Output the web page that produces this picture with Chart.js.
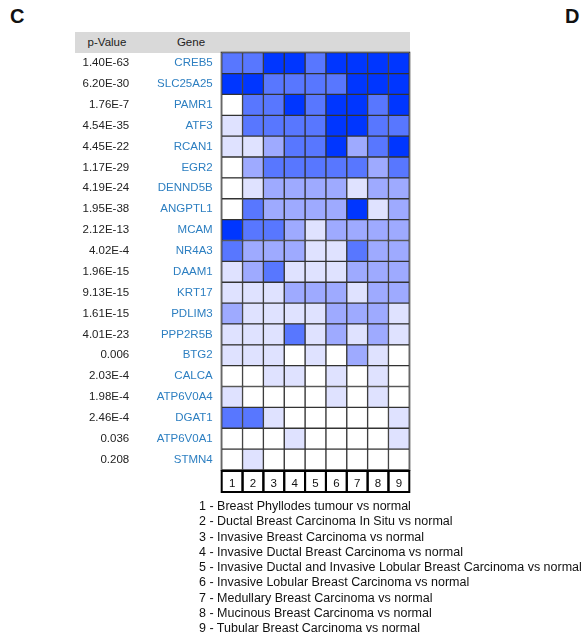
<!DOCTYPE html>
<html>
<head>
<meta charset="utf-8">
<script src="https://cdn.jsdelivr.net/npm/chart.js@4/dist/chart.umd.min.js"></script>
<style>
  body { margin: 0; background: #fff; font-family: "Liberation Sans", Arial, sans-serif; }
  #page { position: relative; width: 584px; height: 636px; overflow: hidden; }
  .panel { position: absolute; top: 5px; font-weight: bold; font-size: 20px; color: #111; }
  #head { position: absolute; left: 75px; top: 32px; width: 335px; height: 21px; background: #d9d9d9; }
  .hd { position: absolute; top: 36px; font-size: 11.5px; color: #222; transform: translateX(-50%); }
  #box { position: absolute; left: 0; top: 0; width: 584px; height: 500px; }
  #key { position: absolute; left: 199px; top: 499px; font-size: 12.5px; line-height: 15.25px; color: #111; white-space: nowrap; }
</style>
</head>
<body>
<div id="page">
  <div class="panel" style="left:10px">C</div>
  <div class="panel" style="left:565px">D</div>
  <div id="head"></div>
  <div class="hd" style="left:107px">p-Value</div>
  <div class="hd" style="left:191px">Gene</div>
  <div id="box"><canvas id="heat"></canvas></div>
  <div id="key"></div>
</div>
<script>
// DATI
const geni = ['CREB5', 'SLC25A25', 'PAMR1', 'ATF3', 'RCAN1', 'EGR2', 'DENND5B', 'ANGPTL1', 'MCAM', 'NR4A3',
  'DAAM1', 'KRT17', 'PDLIM3', 'PPP2R5B', 'BTG2', 'CALCA', 'ATP6V0A4', 'DGAT1', 'ATP6V0A1', 'STMN4'];
const pValori = ['1.40E-63', '6.20E-30', '1.76E-7', '4.54E-35', '4.45E-22', '1.17E-29', '4.19E-24', '1.95E-38', '2.12E-13', '4.02E-4',
  '1.96E-15', '9.13E-15', '1.61E-15', '4.01E-23', '0.006', '2.03E-4', '1.98E-4', '2.46E-4', '0.036', '0.208'];
const colonne = ['1', '2', '3', '4', '5', '6', '7', '8', '9'];
const confronti = [
  'Breast Phyllodes tumour vs normal',
  'Ductal Breast Carcinoma In Situ vs normal',
  'Invasive Breast Carcinoma vs normal',
  'Invasive Ductal Breast Carcinoma vs normal',
  'Invasive Ductal and Invasive Lobular Breast Carcinoma vs normal',
  'Invasive Lobular Breast Carcinoma vs normal',
  'Medullary Breast Carcinoma vs normal',
  'Mucinous Breast Carcinoma vs normal',
  'Tubular Breast Carcinoma vs normal'
];
// livello di colore per gene (righe) e confronto (colonne): 0 = bianco, 4 = blu pieno
const livelli = [
  [3, 3, 4, 4, 3, 4, 4, 4, 4],
  [4, 4, 3, 3, 3, 3, 4, 4, 4],
  [0, 3, 3, 4, 3, 4, 4, 3, 4],
  [1, 3, 3, 3, 3, 4, 4, 3, 3],
  [1, 1, 2, 3, 3, 4, 2, 3, 4],
  [0, 2, 3, 3, 3, 3, 3, 2, 3],
  [0, 1, 2, 2, 2, 2, 1, 2, 2],
  [0, 3, 2, 2, 2, 2, 4, 1, 2],
  [4, 3, 3, 2, 1, 2, 2, 2, 2],
  [3, 2, 2, 2, 1, 1, 3, 2, 2],
  [1, 2, 3, 1, 1, 1, 2, 2, 2],
  [1, 1, 1, 2, 2, 2, 1, 2, 2],
  [2, 1, 1, 1, 1, 2, 2, 2, 1],
  [1, 1, 1, 3, 1, 2, 1, 2, 1],
  [1, 1, 1, 0, 1, 0, 2, 1, 0],
  [0, 0, 1, 1, 0, 1, 0, 1, 0],
  [1, 0, 0, 0, 0, 1, 0, 1, 0],
  [3, 3, 1, 0, 0, 0, 0, 0, 1],
  [0, 0, 0, 1, 0, 0, 0, 0, 1],
  [0, 1, 0, 0, 0, 0, 0, 0, 0]
];
const palette = ['#ffffff', '#dfe2ff', '#9eaaff', '#5877ff', '#0036ff'];

document.getElementById('key').innerHTML = confronti.map((t, i) => `${colonne[i]} - ${t}`).join('<br>');

const FONT = { family: '"Liberation Sans", Arial, sans-serif', size: 11.5 };

// box attorno ai numeri delle colonne + bordo esterno
const boxNumeri = {
  id: 'boxNumeri',
  afterDraw(chart) {
    const { ctx, chartArea: a, scales } = chart;
    ctx.save();
    ctx.strokeStyle = '#333';
    ctx.lineWidth = 1;
    ctx.strokeRect(a.left - 0.5, a.top - 0.5, a.right - a.left + 1, a.bottom - a.top + 1);
    ctx.strokeStyle = '#000';
    ctx.lineWidth = 2;
    colonne.forEach((c, i) => {
      const x0 = scales.x.getPixelForValue(i);
      const x1 = scales.x.getPixelForValue(i + 1);
      ctx.strokeRect(x0, a.bottom + 1, x1 - x0, 21);
    });
    ctx.restore();
  }
};

new Chart(document.getElementById('heat'), {
  type: 'bar',
  data: {
    labels: geni,
    datasets: colonne.map((c, j) => ({
      label: c,
      data: geni.map(() => 1),
      backgroundColor: livelli.map(r => palette[r[j]]),
      borderColor: '#333',
      borderWidth: 1,
      borderSkipped: false,
      barPercentage: 1,
      categoryPercentage: 1,
      xAxisID: 'x',
      yAxisID: 'y'
    }))
  },
  options: {
    indexAxis: 'y',
    responsive: true,
    maintainAspectRatio: false,
    animation: false,
    layout: { padding: { left: 75, right: 174.7, top: 52.7, bottom: 0 } },
    plugins: { legend: { display: false }, tooltip: { enabled: false } },
    scales: {
      x: { type: 'linear', min: 0, max: 9, stacked: true, display: false },
      xn: {
        type: 'category', labels: colonne, position: 'bottom', offset: true,
        grid: { display: false, drawTicks: false }, border: { display: false },
        ticks: { font: FONT, color: '#111', padding: 7, autoSkip: false, maxRotation: 0 },
        afterFit: s => { s.height = 30; }
      },
      y: {
        type: 'category', position: 'left', stacked: true, offset: true, weight: 0,
        grid: { display: false, drawTicks: false }, border: { display: false },
        ticks: { font: FONT, color: '#2d7fc1', padding: 9, autoSkip: false },
        afterFit: s => { s.width = 86; }
      },
      p: {
        type: 'category', labels: pValori, position: 'left', offset: true, weight: 1,
        grid: { display: false, drawTicks: false }, border: { display: false },
        ticks: { font: FONT, color: '#222', padding: 6.5, autoSkip: false },
        afterFit: s => { s.width = 60.7; }
      }
    }
  },
  plugins: [boxNumeri]
});
</script>
</body>
</html>
